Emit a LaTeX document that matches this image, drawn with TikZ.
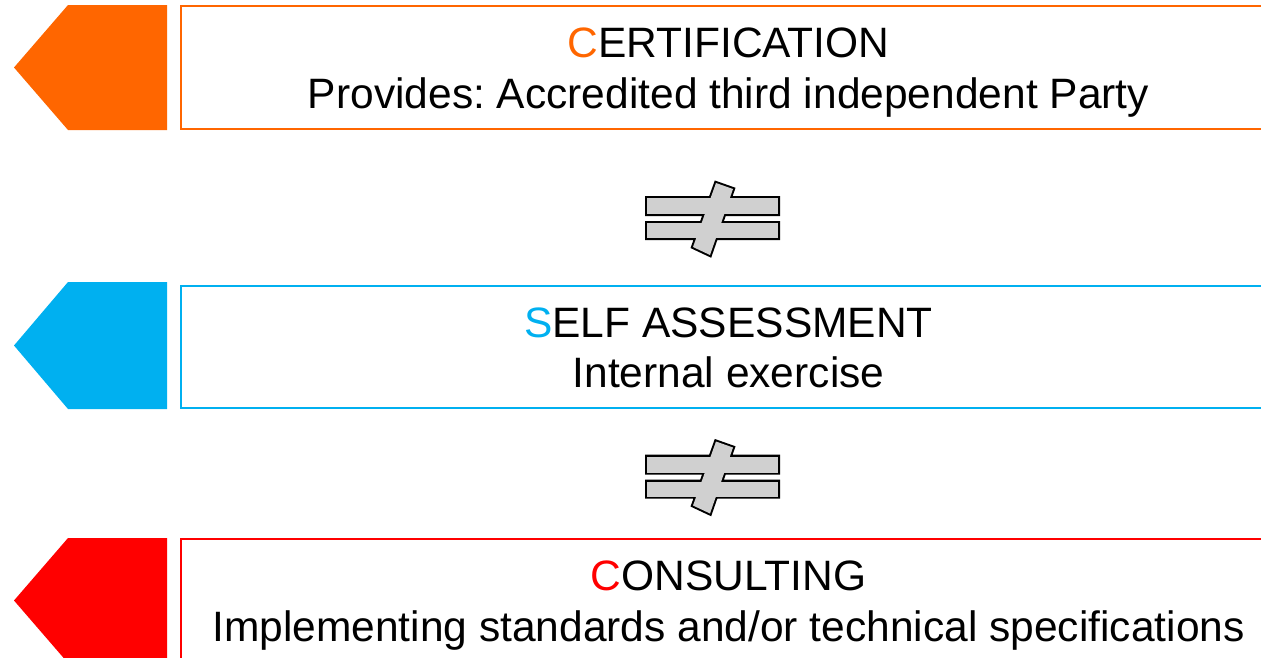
\documentclass[tikz,border=0pt]{standalone}
\usepackage{fontspec}
\setmainfont{Liberation Sans}
\usepackage{tikz}
\frenchspacing

\definecolor{certorange}{RGB}{255,102,0}
\definecolor{selfblue}{RGB}{0,176,240}
\definecolor{consred}{RGB}{255,0,0}
\definecolor{signgray}{RGB}{208,208,208}

\tikzset{
  tagbox/.style={draw, line width=1.5pt, minimum width=1095pt, minimum height=123pt, inner sep=0pt},
  linetext/.style={anchor=base, inner sep=0pt, font=\fontsize{42.5}{50}\selectfont},
  noteq/.pic={
    % outline first, then the grey fill on top
    \draw [black, line width=4pt] (-65.5,-20) rectangle (65.5,-4) (-65.5,5) rectangle (65.5,20)
      (3.5,-35) -- (20.5,-29) -- (-2.5,37) -- (-19.5,29) -- cycle;
    \fill [signgray] (-65.5,-20) rectangle (65.5,-4);
    \fill [signgray] (-65.5,5) rectangle (65.5,20);
    \fill [signgray] (3.5,-35) -- (20.5,-29) -- (-2.5,37) -- (-19.5,29) -- cycle;
  }
}

\begin{document}
\begin{tikzpicture}[x=1pt, y=-1pt]
  \useasboundingbox (0,0) rectangle (1261,657);
  \clip (0,0) rectangle (1261,657);

  % certification
  \fill [certorange] (167,5) -- (68,5) -- (14,67.5) -- (68,130) -- (167,130) -- cycle;
  \node [tagbox, draw=certorange] (cert) at (728.5,67.5) {};
  \node [linetext] (certhead) at ([yshift=-52.5pt]cert.north) {{\color{certorange}C}ERTIFICATION};
  \node [linetext] (certsub) at ([yshift=-103pt]cert.north) {Provides: Accredited third independent Party};

  \pic at (712.5,218) {noteq};

  % self assessment
  \fill [selfblue] (167,282) -- (68,282) -- (14,345.5) -- (68,409) -- (167,409) -- cycle;
  \node [tagbox, draw=selfblue, minimum height=122pt] (self) at (728.5,347) {};
  \node [linetext] (selfhead) at ([yshift=-52pt]self.north) {{\color{selfblue}S}ELF ASSESSMENT};
  \node [linetext] (selfsub) at ([yshift=-102.5pt]self.north) {Internal exercise};

  \pic at (712.5,476.5) {noteq};

  % consulting
  \fill [consred] (167,538) -- (68,538) -- (14,600.5) -- (68,663) -- (167,663) -- cycle;
  \node [tagbox, draw=consred] (cons) at (728.5,600.5) {};
  \node [linetext] (conshead) at ([yshift=-52pt]cons.north) {{\color{consred}C}ONSULTING};
  \node [linetext] (conssub) at ([yshift=-103pt]cons.north) {Implementing standards and/or technical specifications};
\end{tikzpicture}
\end{document}
